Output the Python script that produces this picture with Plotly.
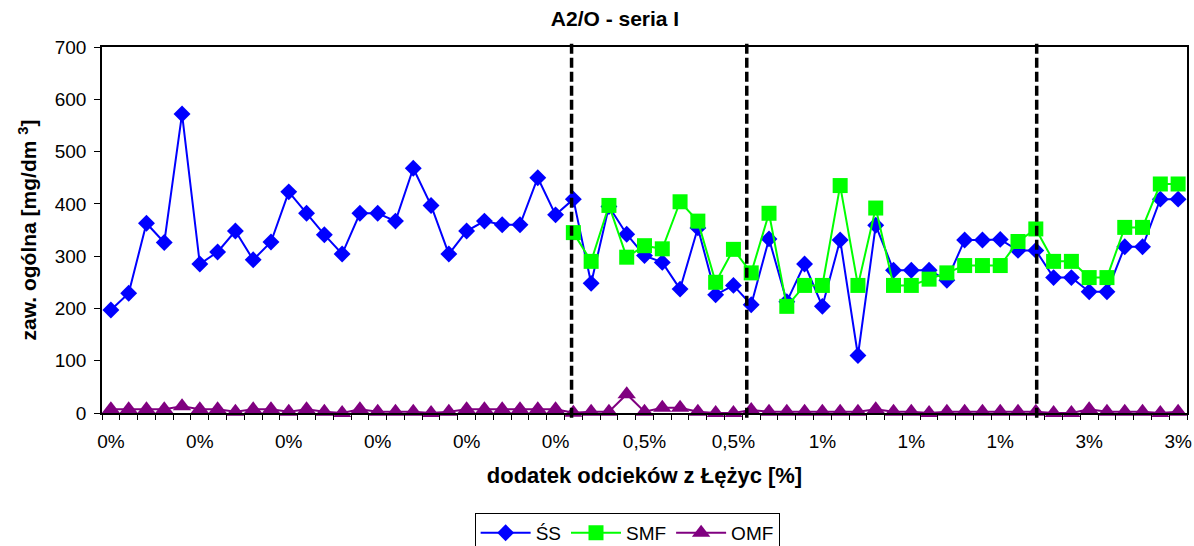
import plotly.graph_objects as go

# ---- data ----
idx = list(range(61))
ss = [197, 229, 363, 326, 572, 285, 308, 348, 293, 327,
      423, 382, 341, 304, 382, 382, 367, 468, 397, 304,
      348, 367, 360, 360, 450, 379, 409, 248, 395, 342,
      301, 288, 237, 354, 226, 244, 207, 333, 213, 285,
      204, 331, 110, 359, 273, 273, 273, 254, 331, 331,
      332, 311, 311, 259, 259, 232, 232, 318, 318, 409, 409]
smf = [None] * 26 + [345, 290, 397, 298,
      320, 314, 404, 367, 250, 313, 268, 382, 204, 244,
      244, 435, 244, 392, 244, 244, 256, 268, 282, 282,
      282, 328, 352, 290, 290, 259, 259, 355, 355, 438, 438]
omf = [7, 7, 7, 7, 13, 7, 7, 2.5, 7, 7,
       2.5, 7, 2.5, 0, 7, 2.5, 2.5, 2.5, 0, 2.5,
       7, 7, 7, 7, 7, 7, 0.5, 2.5, 2.5, 36,
       2.5, 10, 10, 2.5, 0, 0, 5.5, 2.5, 2.5, 2.5,
       2.5, 2.5, 2.5, 7, 2.5, 2.5, 0, 2.5, 2.5, 2.5,
       2.5, 2.5, 2.5, 0, 0, 7, 2.5, 2.5, 2.5, 0, 2.5]
label_pos = list(range(0, 61, 5))
label_text = ['0%', '0%', '0%', '0%', '0%', '0%', '0,5%', '0,5%',
              '1%', '1%', '1%', '3%', '3%']
boundaries = [25.9, 35.75, 52.05]

FONT = "Liberation Sans, Arial, sans-serif"

fig = go.Figure()
fig.add_trace(go.Scatter(x=idx, y=ss, name='ŚS', mode='lines+markers',
                         line=dict(color='#0000FF', width=2),
                         marker=dict(symbol='diamond', size=13, color='#0000FF')))
fig.add_trace(go.Scatter(x=idx, y=smf, name='SMF', mode='lines+markers',
                         line=dict(color='#00FF00', width=2),
                         marker=dict(symbol='square', size=15, color='#00FF00')))
fig.add_trace(go.Scatter(x=idx, y=omf, name='OMF', mode='lines+markers',
                         line=dict(color='#800080', width=2),
                         marker=dict(symbol='triangle-up', size=16, color='#800080'),
                         cliponaxis=False))

for b in boundaries:
    fig.add_shape(type='line', xref='x', yref='paper', x0=b, x1=b,
                  y0=-0.013, y1=1.02, layer='above',
                  line=dict(color='black', width=3.5, dash='10px,4px'))

fig.update_layout(
    width=1194, height=546,
    margin=dict(l=102, r=7, t=47, b=133, autoexpand=False),
    paper_bgcolor='white', plot_bgcolor='white',
    font=dict(family=FONT, size=19, color='black'),
    title=dict(text='<b>A2/O - seria I</b>', x=615 / 1194, xanchor='center',
               y=1 - 19 / 546, yanchor='middle', font=dict(size=21)),
    showlegend=True,
    legend=dict(orientation='h', x=0.484, xanchor='center', y=-0.273, yanchor='top',
                bordercolor='black', borderwidth=1, font=dict(size=19),
                itemwidth=50, tracegroupgap=0),
)
fig.update_xaxes(range=[-0.5, 60.5], tickmode='array', tickvals=label_pos,
                 ticktext=label_text, ticks='', showgrid=False, zeroline=False,
                 showline=True, linecolor='black', linewidth=1.5, mirror=True,
                 ticklabelstandoff=10, automargin=False,
                 minor=dict(tickmode='array', tickvals=[i - 0.5 for i in range(62)],
                            ticks='outside', ticklen=5, tickcolor='black', showgrid=False),
                 title=dict(text='<b>dodatek odcieków z Łężyc [%]</b>', font=dict(size=22),
                            standoff=17))
fig.update_yaxes(range=[0, 700], dtick=100, ticks='outside', ticklen=6,
                 tickcolor='black', showgrid=False, zeroline=False,
                 showline=True, linecolor='black', linewidth=1.5, mirror=True,
                 ticklabelstandoff=4, automargin=False,
                 title=dict(text='<b>zaw. ogólna [mg/dm <sup>3</sup>]</b>', font=dict(size=21),
                            standoff=12))

fig.write_html("out.html", config={'displayModeBar': False},
               post_script="document.body.style.margin='0';document.body.style.padding='0';")
